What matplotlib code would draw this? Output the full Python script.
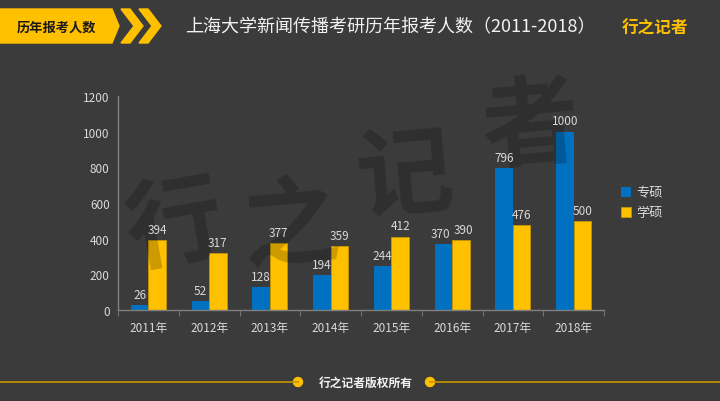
"""上海大学新闻传播考研历年报考人数 bar chart."""

import matplotlib

matplotlib.use("Agg")
import matplotlib.pyplot as plt
from matplotlib.patches import Polygon, Circle
from matplotlib.lines import Line2D
import numpy as np

plt.rcParams["font.family"] = ["Noto Sans CJK SC", "DejaVu Sans"]

years = ["2011年", "2012年", "2013年", "2014年", "2015年", "2016年", "2017年", "2018年"]
zhuanshuo = [26, 52, 128, 194, 244, 370, 796, 1000]
xueshuo = [394, 317, 377, 359, 412, 390, 476, 500]
series_names = ["专硕", "学硕"]

BG = "#3b3b3b"
BLUE = "#0070c0"
YELLOW = "#ffc000"
TEXT = "#d9d9d9"

fig = plt.figure(figsize=(7.2, 4.02), dpi=100, facecolor=BG)

# main chart axes
ax = fig.add_axes([118 / 720, 91 / 402, 486 / 720, 214 / 402])
ax.set_facecolor(BG)

x = np.arange(len(years))
w = 0.29
b1 = ax.bar(x - w / 2, zhuanshuo, w, color=BLUE, label=series_names[0], zorder=2)
b2 = ax.bar(x + w / 2, xueshuo, w, color=YELLOW, edgecolor="#c89600", linewidth=0.6,
            label=series_names[1], zorder=2)

for i, (r1, r2) in enumerate(zip(b1, b2)):
    # nudge labels apart a little when both bars are about the same height
    nudge = 2 if abs(r1.get_height() - r2.get_height()) < 60 else 0
    for rect, dx in ((r1, -nudge), (r2, nudge)):
        ax.annotate(f"{int(rect.get_height())}",
                    (rect.get_x() + rect.get_width() / 2, rect.get_height()),
                    xytext=(dx, 3), textcoords="offset points",
                    ha="center", va="bottom", color=TEXT, fontsize=8.5, zorder=4)

ax.set_xlim(-0.5, len(years) - 0.5)
ax.set_ylim(0, 1200)
ax.set_yticks(range(0, 1201, 200))
ax.set_xticks(x)
ax.set_xticklabels(years)
ax.set_xticks(np.arange(-0.5, len(years)), minor=True)
ax.tick_params(axis="x", which="major", length=0, pad=8, colors=TEXT, labelsize=8.5)
ax.tick_params(axis="x", which="minor", length=4, color="#808080", direction="out")
ax.tick_params(axis="y", length=0, pad=6, colors=TEXT, labelsize=8.5)
for s in ("top", "right"):
    ax.spines[s].set_visible(False)
for s in ("left", "bottom"):
    ax.spines[s].set_color("#808080")
    ax.spines[s].set_linewidth(1.0)

leg = ax.legend(loc="center left", bbox_to_anchor=(1.01, 0.5), frameon=False,
                fontsize=9.5, handlelength=0.8, handleheight=0.8, handletextpad=0.4,
                labelspacing=0.5)
for t in leg.get_texts():
    t.set_color(TEXT)

# watermark: between bars and value labels
for ch, (cx, cy, rot) in zip("行之记者", [(175, 228, 10), (290, 228, 5),
                                       (405, 178, 5), (530, 128, 5)]):
    ax.text(cx / 720, 1 - cy / 402, ch, transform=fig.transFigure, clip_on=False,
            ha="center", va="center", fontsize=70, fontweight="bold",
            color="black", alpha=0.2, rotation=rot, zorder=3)

# overlay for header and footer (pixel coords)
ov = fig.add_axes([0, 0, 1, 1], zorder=5)
ov.set_xlim(0, 720)
ov.set_ylim(402, 0)
ov.axis("off")
ov.patch.set_visible(False)

ov.add_patch(Polygon([(0, 10), (112, 10), (119, 27), (112, 44), (0, 44)],
                     closed=True, color=YELLOW))
for x0 in (121, 139):
    ov.add_patch(Polygon([(x0, 10), (x0 + 9, 10), (x0 + 22, 27), (x0 + 9, 44),
                          (x0, 44), (x0 + 13, 27)], closed=True, color=YELLOW))
ov.text(56, 27.5, "历年报考人数", ha="center", va="center", fontsize=9.5,
        fontweight="bold", color="#1a1a1a")
ov.text(185, 27, "上海大学新闻传播考研历年报考人数（2011-2018）", ha="left", va="center",
        fontsize=13, color="#f2f2f2")
ov.text(655, 29, "行之记者", ha="center", va="center", fontsize=12,
        fontweight="heavy", color=YELLOW, style="italic")

# footer
ov.add_line(Line2D([0, 298], [383, 383], color="#c89600", linewidth=1.2))
ov.add_line(Line2D([430, 720], [383, 383], color="#c89600", linewidth=1.2))
ov.add_patch(Circle((298, 383), 4.5, color=YELLOW))
ov.add_patch(Circle((430, 383), 4.5, color=YELLOW))
ov.text(366, 383, "行之记者版权所有", ha="center", va="center", fontsize=8.5,
        fontweight="bold", color="#f2f2f2")

fig.savefig("out.png", dpi=100, facecolor=BG)
